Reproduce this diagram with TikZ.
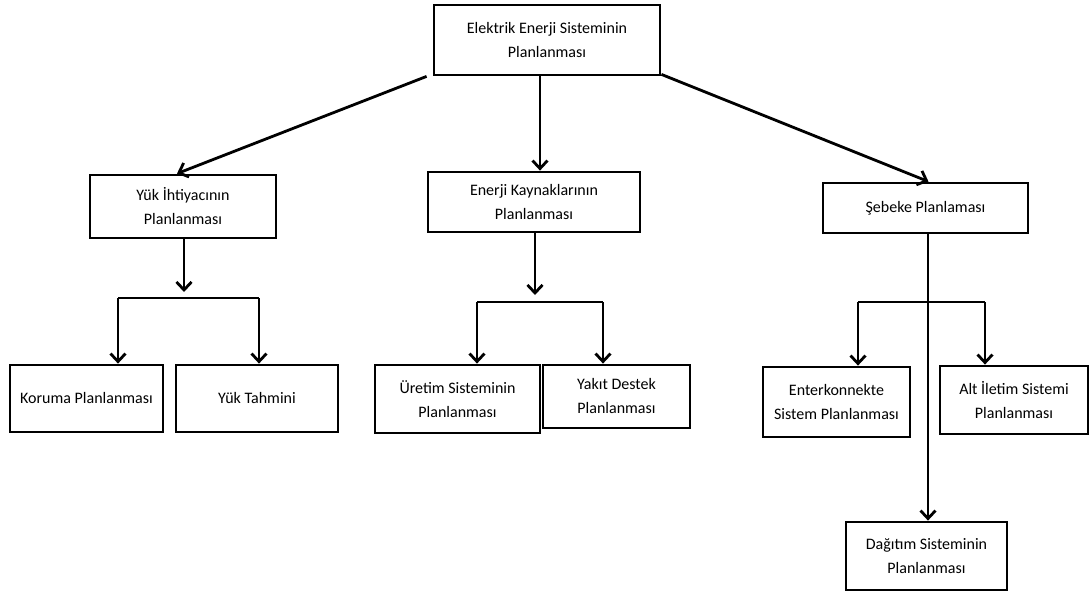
\documentclass[tikz,border=0pt]{standalone}
\usepackage{fontspec}
\setmainfont{Carlito}
\usetikzlibrary{arrows.meta}
\begin{document}
\begin{tikzpicture}[x=1pt,y=-1pt,
  box/.style={draw=black,line width=2.8pt,fill=white,align=center,
    inner sep=0pt,font=\fontsize{16}{24}\selectfont},
  link/.style={line width=2.8pt},
  arr/.style={link,-{Straight Barb[length=8pt,width=15pt]}}]
\useasboundingbox[fill=white] (0,0) rectangle (1090,591);

% boxes
\node[box,minimum width=226pt,minimum height=70pt] (top) at (547,40)
  {Elektrik Enerji Sisteminin\\Planlanması};
\node[box,minimum width=186pt,minimum height=63pt] (yuk) at (183,206.5)
  {Yük İhtiyacının\\Planlanması};
\node[box,minimum width=212pt,minimum height=60pt] (enerji) at (534,202)
  {Enerji Kaynaklarının\\Planlanması};
\node[box,minimum width=205pt,minimum height=50pt] (sebeke) at (925.5,208)
  {Şebeke Planlaması};
\node[box,minimum width=153pt,minimum height=67pt] (koruma) at (86.5,398.5)
  {Koruma Planlanması};
\node[box,minimum width=162pt,minimum height=67pt] (tahmin) at (257,398.5)
  {Yük Tahmini};
\node[box,minimum width=165pt,minimum height=68pt] (uretim) at (457.5,399)
  {Üretim Sisteminin\\Planlanması};
\node[box,minimum width=147pt,minimum height=63pt] (yakit) at (616.5,396.5)
  {Yakıt Destek\\Planlanması};
\node[box,minimum width=147pt,minimum height=70pt] (enter) at (836.5,402)
  {Enterkonnekte\\Sistem Planlanması};
\node[box,minimum width=148pt,minimum height=68pt] (alt) at (1014,400)
  {Alt İletim Sistemi\\Planlanması};
\node[box,minimum width=161pt,minimum height=68pt] (dagitim) at (926.5,556)
  {Dağıtım Sisteminin\\Planlanması};

% junction points of the branches
\coordinate (yj) at (184,292);
\coordinate (yb) at (184,298);
\coordinate (ej) at (535,295);
\coordinate (eb) at (535,302);
\coordinate (sb) at (928,302);

% top level
\draw[arr] ([xshift=-6pt]top.south west) -- ([xshift=-6pt]yuk.north);
\draw[arr] ([xshift=-7pt]top.south) -- ([xshift=-7pt]top.south |- enerji.north);
\draw[arr] ([yshift=2pt]top.south east) -- ([xshift=3pt]sebeke.north);

% load branch
\draw[arr] (yuk.south -| yj) -- (yj);
\draw[link] ([xshift=31.5pt]yb -| koruma.north) -- ([xshift=2pt]yb -| tahmin.north);
\draw[arr] ([xshift=31.5pt]yb -| koruma.north) -- ([xshift=31.5pt]koruma.north);
\draw[arr] ([xshift=2pt]yb -| tahmin.north) -- ([xshift=2pt]tahmin.north);

% sources branch
\draw[arr] (enerji.south -| ej) -- (ej);
\draw[link] ([xshift=19.5pt]eb -| uretim.north) -- ([xshift=-13.5pt]eb -| yakit.north);
\draw[arr] ([xshift=19.5pt]eb -| uretim.north) -- ([xshift=19.5pt]uretim.north);
\draw[arr] ([xshift=-13.5pt]eb -| yakit.north) -- ([xshift=-13.5pt]yakit.north);

% network branch
\draw[arr] ([xshift=2.5pt]sebeke.south) -- ([xshift=1.5pt]dagitim.north);
\draw[link] ([xshift=21.5pt]sb -| enter.north) -- ([xshift=-29pt]sb -| alt.north);
\draw[arr] ([xshift=21.5pt]sb -| enter.north) -- ([xshift=21.5pt]enter.north);
\draw[arr] ([xshift=-29pt]sb -| alt.north) -- ([xshift=-29pt]alt.north);
\end{tikzpicture}
\end{document}
